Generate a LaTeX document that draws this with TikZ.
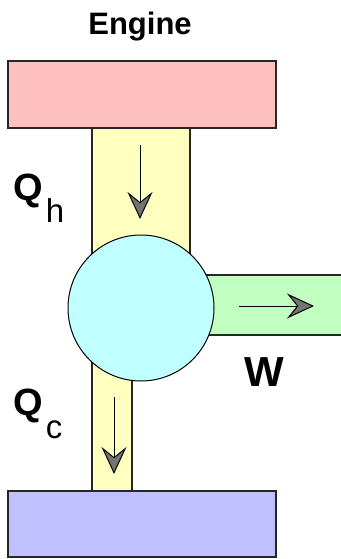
\documentclass[tikz,border=0pt]{standalone}
\usepackage{fontspec}
\setmainfont{Liberation Sans}
\usetikzlibrary{arrows.meta}

\definecolor{hotred}{RGB}{255,192,192}
\definecolor{coldblue}{RGB}{192,192,255}
\definecolor{pipeyellow}{RGB}{255,255,192}
\definecolor{workgreen}{RGB}{192,255,192}
\definecolor{enginecyan}{RGB}{192,255,255}

\begin{document}
\begin{tikzpicture}[x=1pt, y=-1pt,
    box/.style={draw=black!85, line width=1.2pt},
    flow/.style={line width=1pt, -{Stealth[length=27pt, width=25pt, inset=10pt, fill=black!55]}},
    lbl/.style={anchor=base west, inner sep=0pt}]
    \useasboundingbox (0,0) rectangle (340,559);

    % pipes
    \filldraw[box, fill=pipeyellow] (92,128) rectangle (190,270);
    \filldraw[box, fill=pipeyellow] (92,350) rectangle (132,491);
    \filldraw[box, fill=workgreen] (200,275) rectangle (342,335);

    % reservoirs and engine
    \node[box, fill=hotred, minimum width=268pt, minimum height=67pt, inner sep=0pt] (hot) at (142,94.5) {};
    \node[box, fill=coldblue, minimum width=268pt, minimum height=66pt, inner sep=0pt] (cold) at (142,524) {};
    \node[draw=black, line width=1pt, circle, fill=enginecyan, minimum size=146pt, inner sep=0pt] (eng) at (141,308) {};

    % flow arrows
    \coordinate (hin) at (140,145);
    \coordinate (hout) at (140,219);
    \coordinate (cin) at (114,397);
    \coordinate (cout) at (114,474);
    \coordinate (win) at (239,306);
    \coordinate (wout) at (314,306);
    \draw[flow] (hin) -- (hout);
    \draw[flow] (cin) -- (cout);
    \draw[flow] (win) -- (wout);

    % labels
    \node[anchor=base, inner sep=0pt, font=\fontsize{31pt}{31pt}\selectfont\bfseries] (title) at (140,35) {Engine};
    \node[lbl, font=\fontsize{38pt}{38pt}\selectfont] (qh) at (13,200) {\bfseries Q\kern3pt\raisebox{-22pt}{\fontsize{33pt}{33pt}\selectfont\mdseries h}};
    \node[lbl, font=\fontsize{38pt}{38pt}\selectfont] (qc) at (13,415) {\bfseries Q\kern3pt\raisebox{-23pt}{\fontsize{33pt}{33pt}\selectfont\mdseries c}};
    \node[lbl, font=\fontsize{42pt}{42pt}\selectfont\bfseries] (w) at (244,386) {W};
\end{tikzpicture}
\end{document}
